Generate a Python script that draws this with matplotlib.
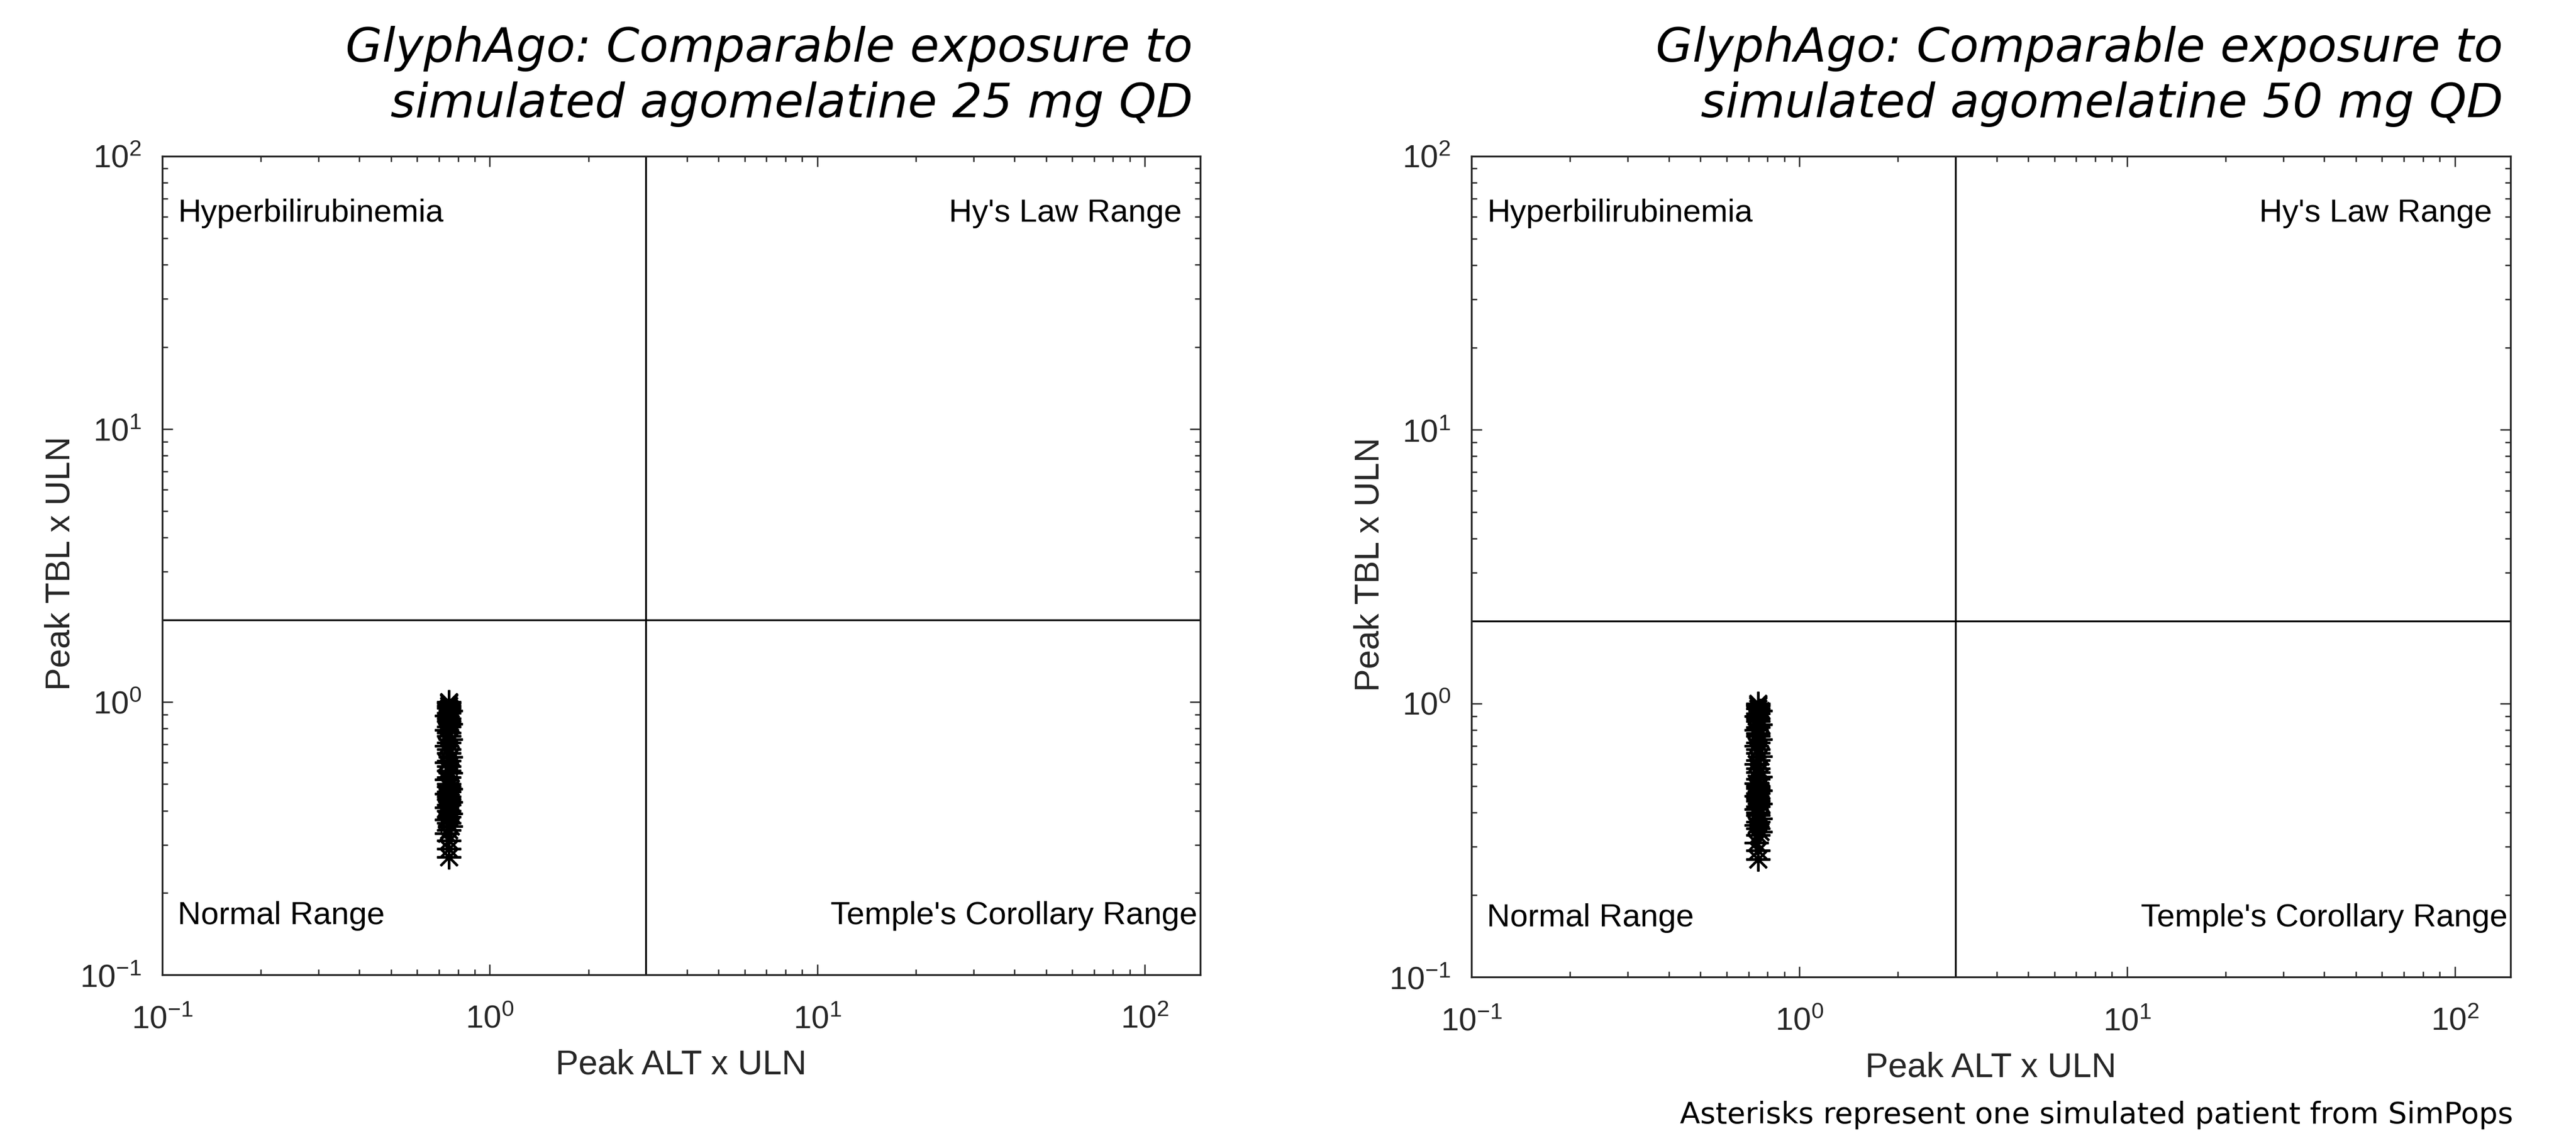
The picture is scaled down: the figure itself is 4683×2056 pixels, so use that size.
import matplotlib
matplotlib.use("Agg")
import matplotlib.pyplot as plt
from matplotlib.ticker import LogLocator, NullFormatter

plt.rcParams['font.family'] = ['Liberation Sans', 'DejaVu Sans']
plt.rcParams['mathtext.fontset'] = 'custom'
plt.rcParams['mathtext.rm'] = 'Liberation Sans'
plt.rcParams['mathtext.it'] = 'Liberation Sans:italic'
plt.rcParams['mathtext.bf'] = 'Liberation Sans:bold'

# data
titles = ["GlyphAgo: Comparable exposure to\nsimulated agomelatine 25 mg QD",
          "GlyphAgo: Comparable exposure to\nsimulated agomelatine 50 mg QD"]

alt_25 = [0.75, 0.75, 0.75, 0.74, 0.75, 0.76, 0.75, 0.74, 0.75, 0.76,
          0.75, 0.74, 0.75, 0.76, 0.75, 0.75, 0.74, 0.75, 0.76, 0.75,
          0.75, 0.74, 0.75, 0.76, 0.75, 0.75, 0.74, 0.75, 0.76, 0.75,
          0.75, 0.74, 0.75, 0.76, 0.75, 0.75, 0.74, 0.75, 0.76, 0.75,
          0.75, 0.74, 0.75, 0.76, 0.75, 0.75, 0.75, 0.75]
tbl_25 = [0.27, 0.29, 0.31, 0.33, 0.34, 0.35, 0.36, 0.37, 0.38, 0.39,
          0.40, 0.41, 0.42, 0.43, 0.44, 0.45, 0.46, 0.47, 0.48, 0.49,
          0.50, 0.52, 0.53, 0.55, 0.56, 0.58, 0.60, 0.61, 0.63, 0.65,
          0.67, 0.69, 0.71, 0.73, 0.75, 0.77, 0.79, 0.81, 0.83, 0.85,
          0.87, 0.89, 0.91, 0.93, 0.95, 0.97, 0.99, 1.00]

alt_50 = [0.75, 0.75, 0.74, 0.75, 0.76, 0.75, 0.74, 0.75, 0.76, 0.75,
          0.75, 0.74, 0.75, 0.76, 0.75, 0.75, 0.74, 0.75, 0.76, 0.75,
          0.75, 0.74, 0.75, 0.76, 0.75, 0.75, 0.74, 0.75, 0.76, 0.75,
          0.75, 0.74, 0.75, 0.76, 0.75, 0.75, 0.74, 0.75, 0.76, 0.75,
          0.75, 0.74, 0.75, 0.76, 0.75, 0.75, 0.75, 0.75]
tbl_50 = [0.27, 0.29, 0.31, 0.33, 0.34, 0.35, 0.36, 0.37, 0.38, 0.39,
          0.40, 0.41, 0.42, 0.43, 0.44, 0.45, 0.46, 0.47, 0.48, 0.49,
          0.50, 0.51, 0.53, 0.54, 0.56, 0.58, 0.60, 0.62, 0.64, 0.66,
          0.68, 0.70, 0.72, 0.74, 0.76, 0.78, 0.80, 0.82, 0.84, 0.86,
          0.88, 0.90, 0.92, 0.94, 0.96, 0.98, 0.99, 1.00]

ALT_LIMIT = 3   # x ULN
TBL_LIMIT = 2   # x ULN

axis_col = '#262626'

fig = plt.figure(figsize=(4683 / 300, 2056 / 300), dpi=300)
ax1 = fig.add_axes([0.063, 0.138, 0.403, 0.724])
ax2 = fig.add_axes([0.5712, 0.136, 0.4034, 0.726])

for ax, x, y, title in [(ax1, alt_25, tbl_25, titles[0]), (ax2, alt_50, tbl_50, titles[1])]:
    ax.set_xscale('log')
    ax.set_yscale('log')
    ax.set_xlim(0.1, 148)
    ax.set_ylim(0.1, 100)

    ax.plot(x, y, linestyle='none', marker=(8, 2, 0), markersize=10.5,
            markeredgewidth=1.0, color='black')
    ax.axvline(ALT_LIMIT, color='black', linewidth=0.8)
    ax.axhline(TBL_LIMIT, color='black', linewidth=0.8)

    ax.xaxis.set_major_locator(LogLocator(base=10, numticks=10))
    ax.yaxis.set_major_locator(LogLocator(base=10, numticks=10))
    ax.xaxis.set_minor_locator(LogLocator(base=10, subs=range(2, 10), numticks=20))
    ax.yaxis.set_minor_locator(LogLocator(base=10, subs=range(2, 10), numticks=20))
    ax.xaxis.set_minor_formatter(NullFormatter())
    ax.yaxis.set_minor_formatter(NullFormatter())
    ax.tick_params(which='both', direction='in', top=True, right=True,
                   colors=axis_col, labelcolor=axis_col, width=0.6)
    ax.tick_params(which='major', length=4.5, labelsize=14)
    ax.tick_params(which='minor', length=2.5)
    ax.tick_params(axis='x', which='major', pad=13)
    ax.tick_params(axis='y', which='major', pad=9)
    for s in ax.spines.values():
        s.set_color(axis_col)
        s.set_linewidth(0.8)

    ax.set_xlabel('Peak ALT x ULN', fontsize=15, color=axis_col)
    ax.set_ylabel('Peak TBL x ULN', fontsize=15, color=axis_col)
    ax.xaxis.set_label_coords(0.5, -0.11)
    ax.xaxis.label.set_verticalalignment('center')
    ax.yaxis.set_label_coords(-0.098, 0.503)
    ax.yaxis.label.set_verticalalignment('center')

    ax.text(0.015, 0.93, 'Hyperbilirubinemia', transform=ax.transAxes,
            fontsize=14, ha='left', va='center')
    ax.text(0.982, 0.93, "Hy's Law Range", transform=ax.transAxes,
            fontsize=14, ha='right', va='center')
    ax.text(0.015, 0.072, 'Normal Range', transform=ax.transAxes,
            fontsize=14, ha='left', va='center')
    ax.text(0.997, 0.072, "Temple's Corollary Range", transform=ax.transAxes,
            fontsize=14, ha='right', va='center')

    # two-line italic title, right aligned with the plot
    right = ax.get_position().x1 - 0.003
    line1, line2 = title.split('\n')
    fig.text(right, 0.9455, line1, ha='right', va='baseline', fontsize=20.7,
             style='italic', family='DejaVu Sans', color='black')
    fig.text(right, 0.8964, line2, ha='right', va='baseline', fontsize=20.7,
             style='italic', family='DejaVu Sans', color='black')

fig.text(0.9755, 0.007, 'Asterisks represent one simulated patient from SimPops',
         ha='right', va='baseline', fontsize=12.9, family='DejaVu Sans', color='black')

fig.savefig('out.png', dpi=300, facecolor='white')
